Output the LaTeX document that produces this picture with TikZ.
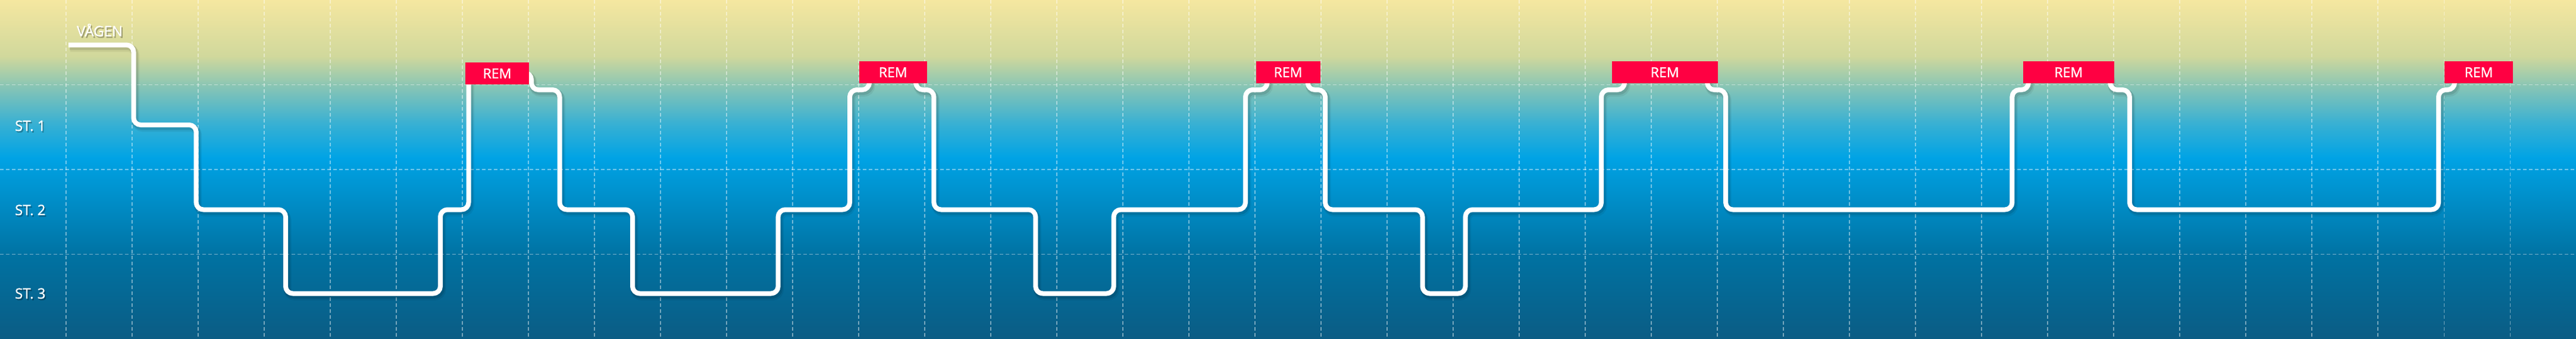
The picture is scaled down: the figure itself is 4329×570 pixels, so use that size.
\documentclass[tikz,border=0pt]{standalone}
\usepackage{fontspec}
\setmainfont{Open Sans}
\newfontfamily\labfont{Open Sans}[FakeBold=1.2]
\definecolor{c0}{HTML}{F5E7A0}
\definecolor{c1}{HTML}{D0D89C}
\definecolor{c2}{HTML}{88C5B5}
\definecolor{c3}{HTML}{3BB1D2}
\definecolor{c4}{HTML}{00A3E5}
\definecolor{c5}{HTML}{0072A2}
\definecolor{c6}{HTML}{0B5C84}
\definecolor{remred}{HTML}{FF0042}
\tikzset{
  gridline/.style={white, opacity=0.45, line width=1.1pt, dash pattern=on 6pt off 4pt},
  wave/.style={white, line width=8pt, rounded corners=12pt, line join=round},
  waveshadow/.style={black, line width=11pt, rounded corners=12pt, opacity=0.10},
  rembox/.style={fill=remred, draw=none, inner sep=0pt},
  remtext/.style={text=white, font=\labfont\fontsize{23}{23}\selectfont, inner sep=0pt, anchor=base},
  lab/.style={text=white, font=\labfont\fontsize{24}{24}\selectfont, inner sep=0pt, anchor=base west},
  labshadow/.style={text=black, opacity=0.25, font=\labfont\fontsize{24}{24}\selectfont, inner sep=0pt, anchor=base west},
  wavepath/.style={insert path={
    (115,75.5) -- (224.5,75.5) -- (224.5,210) -- (329.7,210) -- (329.7,352.5)
    -- (480,352.5) -- (480,493.5) -- (740,493.5) -- (740,352.5) -- (787.5,352.5)
    -- (787.5,122) -- (893,122) -- (893,151) -- (940.5,151) -- (940.5,352.5)
    -- (1063,352.5) -- (1063,493.5) -- (1307.7,493.5) -- (1307.7,352.5) -- (1428,352.5)
    -- (1428,151) -- (1461,151) -- (1461,122) -- (1539,122) -- (1539,151)
    -- (1569.4,151) -- (1569.4,352.5) -- (1740.3,352.5) -- (1740.3,493.5) -- (1871.6,493.5)
    -- (1871.6,352.5) -- (2093,352.5) -- (2093,151) -- (2129.6,151) -- (2129.6,122)
    -- (2197.6,122) -- (2197.6,151) -- (2227,151) -- (2227,352.5) -- (2390.5,352.5)
    -- (2390.5,493.5) -- (2462.6,493.5) -- (2462.6,352.5) -- (2691,352.5) -- (2691,151)
    -- (2730,151) -- (2730,122) -- (2869,122) -- (2869,151) -- (2900,151)
    -- (2900,352.5) -- (3381.4,352.5) -- (3381.4,151) -- (3409,151) -- (3409,122)
    -- (3546,122) -- (3546,151) -- (3578.8,151) -- (3578.8,352.5) -- (4098,352.5)
    -- (4098,151) -- (4125,151) -- (4125,122)}}
}
\begin{document}
\begin{tikzpicture}[x=1pt,y=-1pt]
\useasboundingbox (0,0) rectangle (4329,570);
% background gradient
\shade[top color=c0, bottom color=c1] (0,0) rectangle (4329,95.5);
\shade[top color=c1, bottom color=c2] (0,95) rectangle (4329,145.5);
\shade[top color=c2, bottom color=c3] (0,145) rectangle (4329,205.5);
\shade[top color=c3, bottom color=c4] (0,205) rectangle (4329,265.5);
\shade[top color=c4, bottom color=c5] (0,265) rectangle (4329,430.5);
\shade[top color=c5, bottom color=c6] (0,430) rectangle (4329,570);
% grid
\foreach \k in {1,...,38} {
  \draw[gridline] ({111*\k},0) -- ({111*\k},570);
}
\foreach \yy in {142.5,285,427.5} {
  \draw[gridline] (0,\yy) -- (4329,\yy);
}
% wave shadow and wave
\draw[waveshadow, shift={(3,5)}, line width=13pt, opacity=0.06] [wavepath];
\draw[waveshadow, shift={(2,3)}] [wavepath];
\draw[wave] [wavepath];
% REM boxes
\node[rembox, minimum width=107pt, minimum height=36.7pt, anchor=north west] (rem1) at (782,105) {};
\node[rembox, minimum width=113.5pt, minimum height=36.7pt, anchor=north west] (rem2) at (1444,103) {};
\node[rembox, minimum width=107.5pt, minimum height=36.7pt, anchor=north west] (rem3) at (2110.8,103) {};
\node[rembox, minimum width=177.4pt, minimum height=36.7pt, anchor=north west] (rem4) at (2709,103) {};
\node[rembox, minimum width=152.8pt, minimum height=36.7pt, anchor=north west] (rem5) at (3399.8,103) {};
\node[rembox, minimum width=115pt, minimum height=36.7pt, anchor=north west] (rem6) at (4108,103) {};
\node[remtext] (t1) at (835.5,131.7) {REM};
\node[remtext] (t2) at (1500.7,129.8) {REM};
\node[remtext] (t3) at (2164.5,129.8) {REM};
\node[remtext] (t4) at (2797.7,129.8) {REM};
\node[remtext] (t5) at (3476.2,129.8) {REM};
\node[remtext] (t6) at (4165.5,129.8) {REM};
% labels with shadow
\foreach \txt/\xx/\yy/\nm in {V\r{A}GEN/129/61/vagen, ST. 1/25/220/st1, ST. 2/25/361.7/st2, ST. 3/25/502/st3} {
  \node[labshadow] at (\xx+2,\yy+2.5) {\txt};
  \node[lab] (\nm) at (\xx,\yy) {\txt};
}
\end{tikzpicture}
\end{document}
